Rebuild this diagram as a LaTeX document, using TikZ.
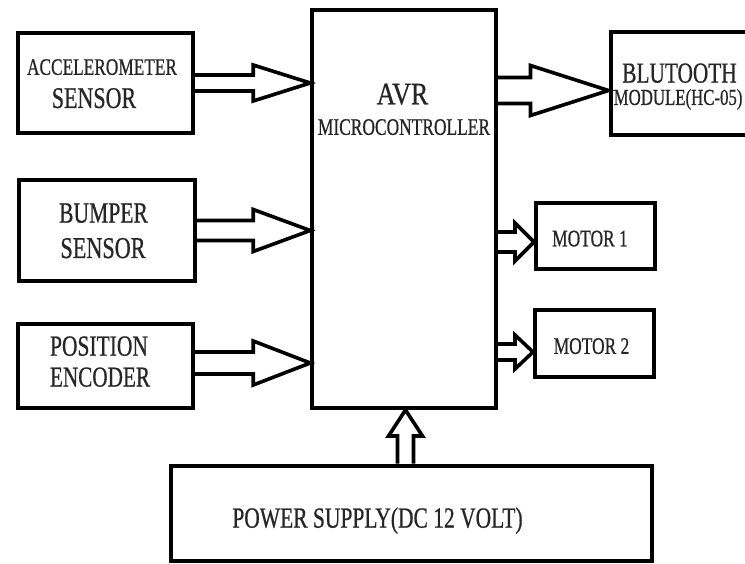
\documentclass[tikz,border=0pt]{standalone}
\usepackage{fontspec}
\setmainfont{Liberation Serif}[FakeBold=0.8]
\usetikzlibrary{calc}
\newcommand\sy[2][1.36]{\scalebox{1}[#1]{#2}}
% right-pointing block arrow: source node, target node, point giving y, shaft half, head half, head length
\newcommand\blkR[6]{%
  \draw[blk] let \p1=(#1.east), \p2=(#2.west), \p3=(#3) in
    (\x1,\y3+#4pt) -- (\x2-#6pt,\y3+#4pt) -- (\x2-#6pt,\y3+#5pt) -- (\x2,\y3)
    -- (\x2-#6pt,\y3-#5pt) -- (\x2-#6pt,\y3-#4pt) -- (\x1,\y3-#4pt);}
% upward block arrow: source node (below), target node (above), point giving x, shaft half, head half, head length
\newcommand\blkU[6]{%
  \draw[blk] let \p1=(#1.north), \p2=(#2.south), \p3=(#3) in
    (\x3-#4pt,\y1) -- (\x3-#4pt,\y2-#6pt) -- (\x3-#5pt,\y2-#6pt) -- (\x3,\y2)
    -- (\x3+#5pt,\y2-#6pt) -- (\x3+#4pt,\y2-#6pt) -- (\x3+#4pt,\y1);}
\tikzset{
  box/.style={draw=black, line width=4pt, fill=white, inner sep=0pt},
  blk/.style={draw=black, line width=3.6pt, line join=miter, miter limit=10},
  lbl/.style={inner sep=0pt, text depth=0pt, text=black!85},
}
\begin{document}
\begin{tikzpicture}[x=1pt, y=-1pt]
\useasboundingbox (0,0) rectangle (745,564);
\clip (0,0) rectangle (745,564);
\fill[white] (0,0) rectangle (745,564);

% boxes
\node[box, minimum width=175, minimum height=100] (acc) at (105.5,83) {};
\node[box, minimum width=176, minimum height=101] (bump) at (107,230.5) {};
\node[box, minimum width=175, minimum height=84] (pos) at (105.5,366) {};
\node[box, minimum width=183.5, minimum height=397.5] (avr) at (404,209.25) {};
\node[box, minimum width=170, minimum height=103] (bt) at (695.5,83.5) {};
\node[box, minimum width=119, minimum height=66] (m1) at (595.5,236) {};
\node[box, minimum width=119, minimum height=67] (m2) at (594.5,343.5) {};
\node[box, minimum width=481.5, minimum height=95.5] (ps) at (411.25,513.25) {};

% labels
\node[lbl, font=\fontsize{17.3}{20}\selectfont] (accA) at (102,67) {\sy{ACCELEROMETER}};
\node[lbl, font=\fontsize{22}{24}\selectfont] (accB) at (94,98) {\sy{SENSOR}};
\node[lbl, font=\fontsize{21.6}{24}\selectfont] (bumpA) at (103.5,213) {\sy{BUMPER}};
\node[lbl, font=\fontsize{22.2}{24}\selectfont] (bumpB) at (103,248) {\sy{SENSOR}};
\node[lbl, font=\fontsize{21.5}{24}\selectfont] (posA) at (99,346) {\sy{POSITION}};
\node[lbl, font=\fontsize{21.2}{24}\selectfont] (posB) at (100,377) {\sy{ENCODER}};
\node[lbl, font=\fontsize{26}{28}\selectfont] (avrA) at (402.5,94) {\sy[1.2]{AVR}};
\node[lbl, font=\fontsize{17.4}{20}\selectfont] (avrB) at (404,127) {\sy{MICROCONTROLLER}};
\node[lbl, font=\fontsize{21.3}{24}\selectfont] (btA) at (679.5,73) {\sy{BLUTOOTH}};
\node[lbl, font=\fontsize{16.8}{20}\selectfont, anchor=west] (btB) at (613.5,97) {\sy{MODULE(HC-05)}};
\node[lbl, font=\fontsize{17.4}{20}\selectfont] (m1A) at (590,238.5) {\sy{MOTOR 1}};
\node[lbl, font=\fontsize{17.4}{20}\selectfont] (m2A) at (591.5,346) {\sy{MOTOR 2}};
\node[lbl, font=\fontsize{21.5}{24}\selectfont] (psA) at (377.5,517.5) {\sy{POWER SUPPLY(DC 12 VOLT)}};

% block arrows
\blkR{acc}{avr}{acc.center}{8}{18}{57}
\blkR{bump}{avr}{bump.center}{10}{21}{57}
\blkR{pos}{avr}{$(pos.center)+(0,-3)$}{11}{22}{57}
\blkR{avr}{bt}{$(bt.center)+(0,7)$}{13}{25}{78}
\blkR{avr}{m1}{$(m1.center)+(0,6)$}{10}{19}{19}
\blkR{avr}{m2}{$(m2.center)+(0,8.5)$}{8}{17}{18}
\blkU{ps}{avr}{$(avr.center)+(1.5,0)$}{8}{17}{26}
\end{tikzpicture}
\end{document}
